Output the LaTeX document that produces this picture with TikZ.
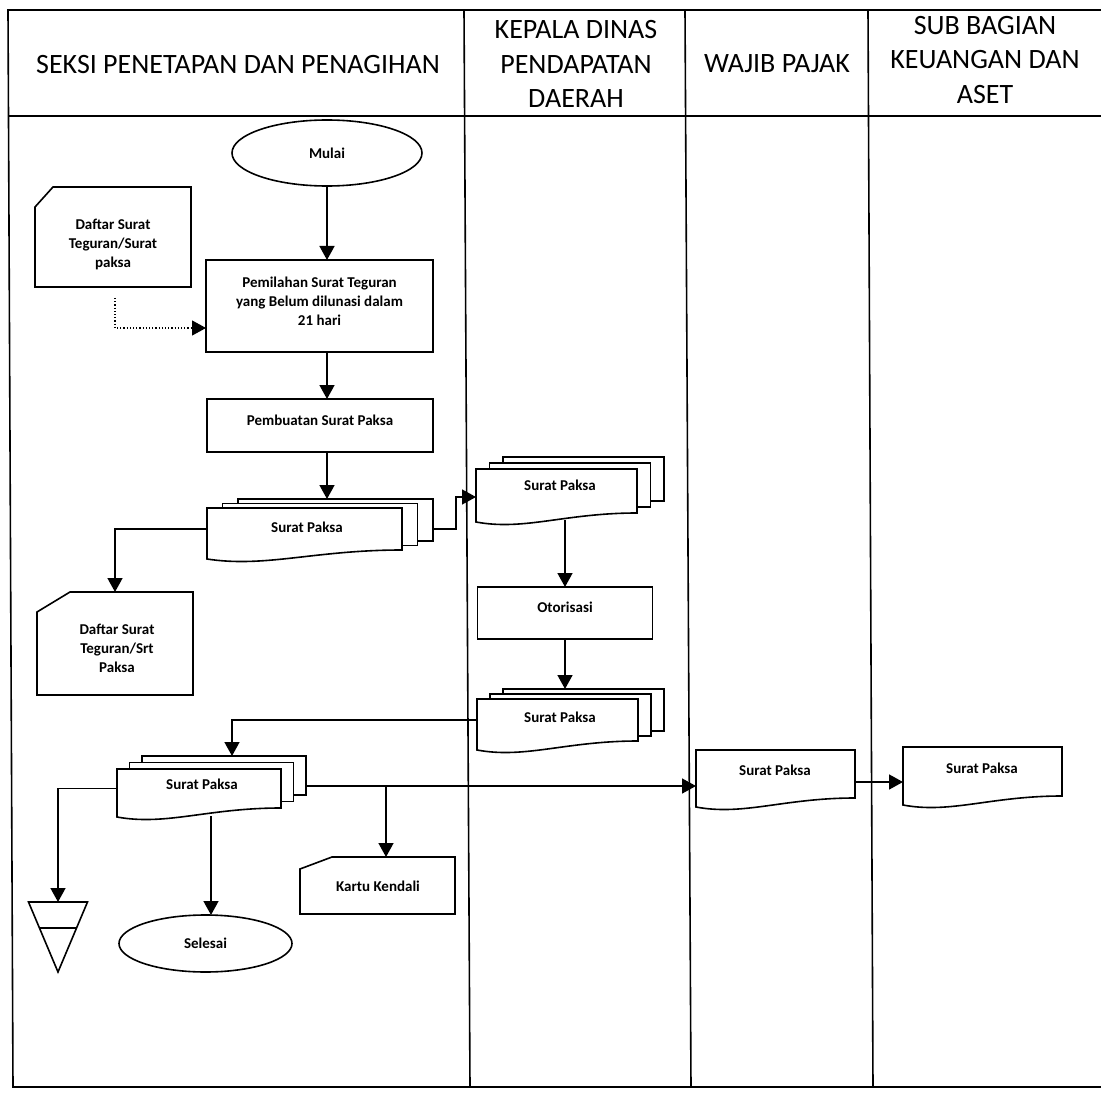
\documentclass[tikz,border=0pt]{standalone}
\usepackage{fontspec}
\setmainfont{Carlito}
\usetikzlibrary{arrows.meta,calc,shapes.geometric}

\tikzset{
  line/.style={line width=1.6pt},
  frameline/.style={line width=1.6pt},
  flow/.style={line width=1.6pt, -{Triangle[width=15pt,length=14pt]}},
  dotflow/.style={line width=1.2pt, dotted, -{Triangle[width=15pt,length=14pt]}},
  shp/.style={draw=none, inner sep=0pt, outer sep=0pt},
  procbox/.style={draw, line width=1.6pt, fill=white, inner sep=0pt, outer sep=0pt},
  layer/.style={draw, line width=1.6pt, fill=white, inner sep=0pt, outer sep=0pt},
  term/.style={ellipse, draw, line width=1.6pt, fill=white, inner sep=0pt, outer sep=0pt},
  lbl/.style={font=\bfseries\fontsize{15}{19}\selectfont, align=center, inner sep=0pt},
  head/.style={font=\fontsize{28}{34.5}\selectfont, align=center, inner sep=0pt},
}

% document outline with a wavy bottom edge, drawn round a sized node
\newcommand\docoutline[1]{%
  \draw[line, fill=white] (#1.north west) -- (#1.north east) -- (#1.south east)
    .. controls ($(#1.south east)!0.45!(#1.south west)$)
       and ($(#1.south west)!0.3!(#1.south east)+(0,18)$)
    .. ($(#1.south west)+(0,9)$) -- cycle;}

% card outline (top-left corner cut off)
\newcommand\cardoutline[3]{%
  \draw[line, fill=white] ($(#1.north west)+(0,#3)$) -- ($(#1.north west)+(#2,0)$)
    -- (#1.north east) -- (#1.south east) -- (#1.south west) -- cycle;}

% stack of three documents: name, centre x, centre y, width, height, step x, step y
\newcommand\stackdoc[7]{%
  \node[layer, minimum width=#4pt, minimum height=#5pt] (#1-3) at (#2+2*#6, #3-2*#7) {};
  \node[layer, minimum width=#4pt, minimum height=#5pt] (#1-2) at (#2+#6, #3-#7) {};
  \node[shp, minimum width=#4pt, minimum height=#5pt] (#1) at (#2, #3) {};
  \docoutline{#1}}

\begin{document}
\begin{tikzpicture}[x=1pt, y=-1pt]
\useasboundingbox (0,0) rectangle (1101,1094);

% ---- swimlane frame ----
\draw[frameline] (1106,10) -- (8,10) -- (13,1087) -- (1106,1087);
\draw[frameline] (9,116) -- (1106,116);
\draw[frameline] (464,10) -- (470,1087);
\draw[frameline] (685,10) -- (691,1087);
\draw[frameline] (868,10) -- (873,1087);

\node[head] (h1) at (238,65) {SEKSI PENETAPAN DAN PENAGIHAN};
\node[head] (h2) at (576,64) {KEPALA DINAS\\PENDAPATAN\\DAERAH};
\node[head] (h3) at (777,64) {WAJIB PAJAK};
\node[head] (h4) at (985,60) {SUB BAGIAN\\KEUANGAN DAN\\ASET};

% ---- Seksi Penetapan dan Penagihan ----
\node[term, minimum width=190pt, minimum height=66pt, font=\bfseries\fontsize{15}{19}\selectfont] (mulai) at (327,153) {Mulai};

\node[shp, minimum width=156pt, minimum height=100pt] (daftar1) at (113,237) {};
\cardoutline{daftar1}{18}{20}
\node[lbl] (daftar1-t) at ([yshift=-7pt]daftar1.center) {Daftar Surat\\Teguran/Surat\\paksa};

\node[procbox, minimum width=227pt, minimum height=92pt] (pemilahan) at (319.5,306) {};
\node[lbl] (pemilahan-t) at ([yshift=5pt]pemilahan.center) {Pemilahan Surat Teguran\\yang Belum dilunasi dalam\\21 hari};

\node[procbox, minimum width=226pt, minimum height=53pt] (pembuatan) at (320,425.5) {};
\node[lbl] (pembuatan-t) at ([yshift=5pt]pembuatan.center) {Pembuatan Surat Paksa};

\stackdoc{A}{304.5}{529}{195}{42}{15.5}{4.5}
\node[lbl] (A-t) at (307,527) {Surat Paksa};

\node[shp, minimum width=156pt, minimum height=103pt] (daftar2) at (115,643.5) {};
\cardoutline{daftar2}{33}{20}
\node[lbl] (daftar2-t) at (117,648) {Daftar Surat\\Teguran/Srt\\Paksa};

\stackdoc{D}{199}{788.5}{164}{39}{12.5}{6.5}
\node[lbl] (D-t) at (202,784) {Surat Paksa};

\coordinate (tri) at (58,902);
\draw[line] ($(tri)+(-29.5,0)$) -- ($(tri)+(29.5,0)$) -- ($(tri)+(0,70)$) -- cycle;
\draw[line] ($(tri)+(-18.5,26)$) -- ($(tri)+(18.5,26)$);

\node[term, minimum width=173pt, minimum height=57pt, font=\bfseries\fontsize{15}{19}\selectfont] (selesai) at (205.5,943.5) {Selesai};

\node[shp, minimum width=155pt, minimum height=57pt] (kartu) at (377.5,885.5) {};
\cardoutline{kartu}{32}{12}
\node[lbl] (kartu-t) at (378,886) {Kartu Kendali};

% ---- Kepala Dinas Pendapatan Daerah ----
\stackdoc{B}{556.5}{491}{161}{44}{13.5}{6}
\node[lbl] (B-t) at (560,485) {Surat Paksa};

\node[procbox, minimum width=175pt, minimum height=52pt] (oto) at (565,613) {};
\node[lbl] (oto-t) at ([yshift=6pt]oto.center) {Otorisasi};

\stackdoc{C}{557.5}{720}{161}{42}{13}{5}
\node[lbl] (C-t) at (560,717) {Surat Paksa};

% ---- Wajib Pajak / Sub Bagian Keuangan dan Aset ----
\node[shp, minimum width=159pt, minimum height=48pt] (W) at (775.5,774) {};
\docoutline{W}
\node[lbl] (W-t) at (775,770) {Surat Paksa};

\node[shp, minimum width=159pt, minimum height=49pt] (S) at (982.5,771.5) {};
\docoutline{S}
\node[lbl] (S-t) at (982,768) {Surat Paksa};

% ---- connectors ----
\draw[flow] (mulai.south) -- (mulai |- pemilahan.north);
\coordinate (dots) at (115,298);
\coordinate (dotcorner) at (115,328);
\draw[dotflow] (dots) -- (dotcorner) -- (dotcorner -| pemilahan.west);
\draw[flow] (mulai |- pemilahan.south) -- (mulai |- pembuatan.north);
\draw[flow] (mulai |- pembuatan.south) -- (mulai |- A-3.north);

\draw[flow] (A.west) -| (daftar2.north);
\coordinate (ab) at (456,497);
\draw[flow] (A-3.east |- A.center) -| (ab) -- (ab -| B.west);

\draw[flow] ($(oto.north |- B.south)+(0,7)$) -- (oto.north);
\draw[flow] (oto.south) -- (oto.south |- C-3.north);

\coordinate (cd) at (232,720);
\draw[flow] (C.west) -- (cd) -- (cd |- D-3.north);

\draw[flow] (D.west) -| (tri);
\coordinate (dsel) at (211,816);
\draw[flow] (dsel) -- (dsel |- selesai.north);

\coordinate (br) at (386,786);
\draw[flow] (D-3.east |- br) -- (br -| W.west);
\draw[flow] (br) -- (br |- kartu.north);

\coordinate (ws) at (880,782);
\draw[flow] (ws -| W.east) -- (ws -| S.west);
\end{tikzpicture}
\end{document}
